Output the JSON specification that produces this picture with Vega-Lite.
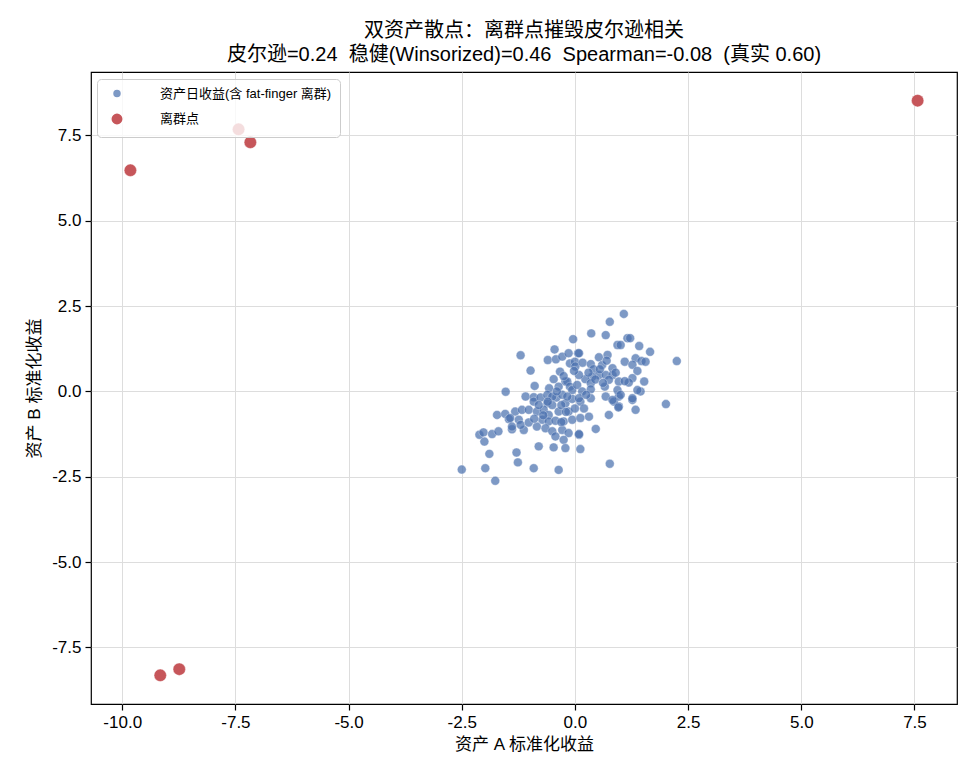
{
  "$schema": "https://vega.github.io/schema/vega-lite/v6.json",
  "autosize": {"type": "none"},
  "padding": {"left": 91, "top": 72, "right": 18, "bottom": 76},
  "width": 866,
  "height": 632,
  "background": "white",
  "title": {
    "text": ["双资产散点：离群点摧毁皮尔逊相关", "皮尔逊=0.24 \u00a0稳健(Winsorized)=0.46 \u00a0Spearman=-0.08 \u00a0(真实 0.60)"],
    "fontSize": 20,
    "fontWeight": "normal",
    "anchor": "middle",
    "offset": 7,
    "lineHeight": 24,
    "color": "black"
  },
  "data": {
    "values": [
      {"a": -2.50, "b": -2.29, "s": "资产日收益(含 fat-finger 离群)"},
      {"a": -1.76, "b": -2.62, "s": "资产日收益(含 fat-finger 离群)"},
      {"a": -1.98, "b": -2.25, "s": "资产日收益(含 fat-finger 离群)"},
      {"a": -1.89, "b": -1.83, "s": "资产日收益(含 fat-finger 离群)"},
      {"a": -2.00, "b": -1.47, "s": "资产日收益(含 fat-finger 离群)"},
      {"a": -2.11, "b": -1.27, "s": "资产日收益(含 fat-finger 离群)"},
      {"a": -2.02, "b": -1.20, "s": "资产日收益(含 fat-finger 离群)"},
      {"a": -1.83, "b": -1.25, "s": "资产日收益(含 fat-finger 离群)"},
      {"a": -1.69, "b": -1.17, "s": "资产日收益(含 fat-finger 离群)"},
      {"a": -1.53, "b": -0.01, "s": "资产日收益(含 fat-finger 离群)"},
      {"a": -1.72, "b": -0.69, "s": "资产日收益(含 fat-finger 离群)"},
      {"a": -1.54, "b": -0.66, "s": "资产日收益(含 fat-finger 离群)"},
      {"a": -1.46, "b": -0.81, "s": "资产日收益(含 fat-finger 离群)"},
      {"a": -1.39, "b": -1.11, "s": "资产日收益(含 fat-finger 离群)"},
      {"a": -1.29, "b": -1.79, "s": "资产日收益(含 fat-finger 离群)"},
      {"a": -1.26, "b": -2.08, "s": "资产日收益(含 fat-finger 离群)"},
      {"a": -1.32, "b": -0.59, "s": "资产日收益(含 fat-finger 离群)"},
      {"a": -1.17, "b": -0.54, "s": "资产日收益(含 fat-finger 离群)"},
      {"a": -1.02, "b": -0.54, "s": "资产日收益(含 fat-finger 离群)"},
      {"a": -1.43, "b": -0.78, "s": "资产日收益(含 fat-finger 离群)"},
      {"a": -1.24, "b": -0.83, "s": "资产日收益(含 fat-finger 离群)"},
      {"a": -1.39, "b": -1.03, "s": "资产日收益(含 fat-finger 离群)"},
      {"a": -1.13, "b": -1.13, "s": "资产日收益(含 fat-finger 离群)"},
      {"a": -1.20, "b": -0.98, "s": "资产日收益(含 fat-finger 离群)"},
      {"a": -1.02, "b": -0.91, "s": "资产日收益(含 fat-finger 离群)"},
      {"a": -1.09, "b": -0.15, "s": "资产日收益(含 fat-finger 离群)"},
      {"a": -0.91, "b": -0.17, "s": "资产日收益(含 fat-finger 离群)"},
      {"a": -0.91, "b": -0.30, "s": "资产日收益(含 fat-finger 离群)"},
      {"a": -0.76, "b": -0.18, "s": "资产日收益(含 fat-finger 离群)"},
      {"a": -0.61, "b": -0.35, "s": "资产日收益(含 fat-finger 离群)"},
      {"a": -0.41, "b": -0.18, "s": "资产日收益(含 fat-finger 离群)"},
      {"a": -0.21, "b": -0.35, "s": "资产日收益(含 fat-finger 离群)"},
      {"a": -0.06, "b": -0.22, "s": "资产日收益(含 fat-finger 离群)"},
      {"a": -0.84, "b": -0.59, "s": "资产日收益(含 fat-finger 离群)"},
      {"a": -0.69, "b": -0.54, "s": "资产日收益(含 fat-finger 离群)"},
      {"a": -0.58, "b": -0.69, "s": "资产日收益(含 fat-finger 离群)"},
      {"a": -0.36, "b": -0.59, "s": "资产日收益(含 fat-finger 离群)"},
      {"a": -0.14, "b": -0.59, "s": "资产日收益(含 fat-finger 离群)"},
      {"a": -0.72, "b": -0.83, "s": "资产日收益(含 fat-finger 离群)"},
      {"a": -0.58, "b": -0.88, "s": "资产日收益(含 fat-finger 离群)"},
      {"a": -0.43, "b": -0.86, "s": "资产日收益(含 fat-finger 离群)"},
      {"a": -0.25, "b": -0.88, "s": "资产日收益(含 fat-finger 离群)"},
      {"a": -0.06, "b": -0.83, "s": "资产日收益(含 fat-finger 离群)"},
      {"a": -0.84, "b": -1.03, "s": "资产日收益(含 fat-finger 离群)"},
      {"a": -0.65, "b": -1.08, "s": "资产日收益(含 fat-finger 离群)"},
      {"a": -0.50, "b": -1.17, "s": "资产日收益(含 fat-finger 离群)"},
      {"a": -0.28, "b": -1.13, "s": "资产日收益(含 fat-finger 离群)"},
      {"a": -0.14, "b": -1.22, "s": "资产日收益(含 fat-finger 离群)"},
      {"a": -0.43, "b": -1.32, "s": "资产日收益(含 fat-finger 离群)"},
      {"a": -0.25, "b": -1.42, "s": "资产日收益(含 fat-finger 离群)"},
      {"a": 0.09, "b": -1.27, "s": "资产日收益(含 fat-finger 离群)"},
      {"a": -0.80, "b": -1.61, "s": "资产日收益(含 fat-finger 离群)"},
      {"a": -0.47, "b": -1.64, "s": "资产日收益(含 fat-finger 离群)"},
      {"a": -0.21, "b": -1.66, "s": "资产日收益(含 fat-finger 离群)"},
      {"a": -0.91, "b": -2.25, "s": "资产日收益(含 fat-finger 离群)"},
      {"a": -0.36, "b": -2.30, "s": "资产日收益(含 fat-finger 离群)"},
      {"a": 0.77, "b": -2.12, "s": "资产日收益(含 fat-finger 离群)"},
      {"a": 0.12, "b": -1.69, "s": "资产日收益(含 fat-finger 离群)"},
      {"a": 0.46, "b": -1.10, "s": "资产日收益(含 fat-finger 离群)"},
      {"a": 0.75, "b": -0.69, "s": "资产日收益(含 fat-finger 离群)"},
      {"a": 1.34, "b": -0.54, "s": "资产日收益(含 fat-finger 离群)"},
      {"a": 0.97, "b": -0.44, "s": "资产日收益(含 fat-finger 离群)"},
      {"a": 1.27, "b": -0.25, "s": "资产日收益(含 fat-finger 离群)"},
      {"a": 0.86, "b": -0.30, "s": "资产日收益(含 fat-finger 离群)"},
      {"a": 1.45, "b": 0.00, "s": "资产日收益(含 fat-finger 离群)"},
      {"a": 0.31, "b": -0.74, "s": "资产日收益(含 fat-finger 离群)"},
      {"a": 2.01, "b": -0.37, "s": "资产日收益(含 fat-finger 离群)"},
      {"a": 0.12, "b": -0.30, "s": "资产日收益(含 fat-finger 离群)"},
      {"a": 0.97, "b": -0.15, "s": "资产日收益(含 fat-finger 离群)"},
      {"a": 0.12, "b": -0.78, "s": "资产日收益(含 fat-finger 离群)"},
      {"a": 0.09, "b": -1.25, "s": "资产日收益(含 fat-finger 离群)"},
      {"a": -1.20, "b": 1.06, "s": "资产日收益(含 fat-finger 离群)"},
      {"a": -0.98, "b": 0.61, "s": "资产日收益(含 fat-finger 离群)"},
      {"a": -0.89, "b": 0.16, "s": "资产日收益(含 fat-finger 离群)"},
      {"a": -0.45, "b": 1.23, "s": "资产日收益(含 fat-finger 离群)"},
      {"a": -0.60, "b": 0.92, "s": "资产日收益(含 fat-finger 离群)"},
      {"a": -0.42, "b": 0.94, "s": "资产日收益(含 fat-finger 离群)"},
      {"a": -0.28, "b": 1.02, "s": "资产日收益(含 fat-finger 离群)"},
      {"a": -0.14, "b": 1.12, "s": "资产日收益(含 fat-finger 离群)"},
      {"a": -0.11, "b": 0.82, "s": "资产日收益(含 fat-finger 离群)"},
      {"a": 0.00, "b": 0.87, "s": "资产日收益(含 fat-finger 离群)"},
      {"a": 0.07, "b": 1.12, "s": "资产日收益(含 fat-finger 离群)"},
      {"a": -0.04, "b": 1.53, "s": "资产日收益(含 fat-finger 离群)"},
      {"a": -0.33, "b": 0.58, "s": "资产日收益(含 fat-finger 离群)"},
      {"a": -0.47, "b": 0.36, "s": "资产日收益(含 fat-finger 离群)"},
      {"a": -0.21, "b": 0.29, "s": "资产日收益(含 fat-finger 离群)"},
      {"a": -0.57, "b": 0.09, "s": "资产日收益(含 fat-finger 离群)"},
      {"a": -0.17, "b": 0.29, "s": "资产日收益(含 fat-finger 离群)"},
      {"a": -0.36, "b": 0.14, "s": "资产日收益(含 fat-finger 离群)"},
      {"a": -0.11, "b": 0.14, "s": "资产日收益(含 fat-finger 离群)"},
      {"a": -0.06, "b": 0.04, "s": "资产日收益(含 fat-finger 离群)"},
      {"a": -0.61, "b": -0.10, "s": "资产日收益(含 fat-finger 离群)"},
      {"a": -0.50, "b": -0.15, "s": "资产日收益(含 fat-finger 离群)"},
      {"a": -0.28, "b": -0.10, "s": "资产日收益(含 fat-finger 离群)"},
      {"a": -0.17, "b": -0.15, "s": "资产日收益(含 fat-finger 离群)"},
      {"a": 0.01, "b": 0.73, "s": "资产日收益(含 fat-finger 离群)"},
      {"a": 1.08, "b": 2.27, "s": "资产日收益(含 fat-finger 离群)"},
      {"a": 0.77, "b": 2.04, "s": "资产日收益(含 fat-finger 离群)"},
      {"a": 0.36, "b": 1.70, "s": "资产日收益(含 fat-finger 离群)"},
      {"a": 0.68, "b": 1.65, "s": "资产日收益(含 fat-finger 离群)"},
      {"a": 0.94, "b": 1.36, "s": "资产日收益(含 fat-finger 离群)"},
      {"a": 1.01, "b": 1.36, "s": "资产日收益(含 fat-finger 离群)"},
      {"a": 1.16, "b": 1.56, "s": "资产日收益(含 fat-finger 离群)"},
      {"a": 1.22, "b": 1.56, "s": "资产日收益(含 fat-finger 离群)"},
      {"a": 1.42, "b": 1.33, "s": "资产日收益(含 fat-finger 离群)"},
      {"a": 1.66, "b": 1.16, "s": "资产日收益(含 fat-finger 离群)"},
      {"a": 2.25, "b": 0.89, "s": "资产日收益(含 fat-finger 离群)"},
      {"a": 1.10, "b": 0.87, "s": "资产日收益(含 fat-finger 离群)"},
      {"a": 1.34, "b": 0.97, "s": "资产日收益(含 fat-finger 离群)"},
      {"a": 1.47, "b": 0.89, "s": "资产日收益(含 fat-finger 离群)"},
      {"a": 1.56, "b": 0.87, "s": "资产日收益(含 fat-finger 离群)"},
      {"a": 1.27, "b": 0.78, "s": "资产日收益(含 fat-finger 离群)"},
      {"a": 1.38, "b": 0.60, "s": "资产日收益(含 fat-finger 离群)"},
      {"a": 1.27, "b": 0.39, "s": "资产日收益(含 fat-finger 离群)"},
      {"a": 1.53, "b": 0.29, "s": "资产日收益(含 fat-finger 离群)"},
      {"a": 0.09, "b": 1.12, "s": "资产日收益(含 fat-finger 离群)"},
      {"a": 0.53, "b": 1.00, "s": "资产日收益(含 fat-finger 离群)"},
      {"a": 0.72, "b": 1.07, "s": "资产日收益(含 fat-finger 离群)"},
      {"a": 0.17, "b": 0.84, "s": "资产日收益(含 fat-finger 离群)"},
      {"a": 0.35, "b": 0.80, "s": "资产日收益(含 fat-finger 离群)"},
      {"a": 0.60, "b": 0.77, "s": "资产日收益(含 fat-finger 离群)"},
      {"a": 0.83, "b": 0.68, "s": "资产日收益(含 fat-finger 离群)"},
      {"a": 0.41, "b": 0.65, "s": "资产日收益(含 fat-finger 离群)"},
      {"a": 0.53, "b": 0.48, "s": "资产日收益(含 fat-finger 离群)"},
      {"a": 0.68, "b": 0.48, "s": "资产日收益(含 fat-finger 离群)"},
      {"a": 0.83, "b": 0.48, "s": "资产日收益(含 fat-finger 离群)"},
      {"a": 0.38, "b": 0.43, "s": "资产日收益(含 fat-finger 离群)"},
      {"a": 0.23, "b": 0.36, "s": "资产日收益(含 fat-finger 离群)"},
      {"a": 0.09, "b": 0.48, "s": "资产日收益(含 fat-finger 离群)"},
      {"a": 0.05, "b": 0.19, "s": "资产日收益(含 fat-finger 离群)"},
      {"a": 0.35, "b": 0.24, "s": "资产日收益(含 fat-finger 离群)"},
      {"a": 0.75, "b": 0.34, "s": "资产日收益(含 fat-finger 离群)"},
      {"a": 0.97, "b": 0.29, "s": "资产日收益(含 fat-finger 离群)"},
      {"a": 0.66, "b": 0.14, "s": "资产日收益(含 fat-finger 离群)"},
      {"a": 0.94, "b": 0.04, "s": "资产日收益(含 fat-finger 离群)"},
      {"a": 1.19, "b": 0.26, "s": "资产日收益(含 fat-finger 离群)"},
      {"a": 1.10, "b": 0.30, "s": "资产日收益(含 fat-finger 离群)"},
      {"a": 1.38, "b": 0.04, "s": "资产日收益(含 fat-finger 离群)"},
      {"a": 0.16, "b": 0.00, "s": "资产日收益(含 fat-finger 离群)"},
      {"a": 0.35, "b": 0.06, "s": "资产日收益(含 fat-finger 离群)"},
      {"a": 0.09, "b": -0.20, "s": "资产日收益(含 fat-finger 离群)"},
      {"a": 0.35, "b": -0.20, "s": "资产日收益(含 fat-finger 离群)"},
      {"a": 0.68, "b": -0.15, "s": "资产日收益(含 fat-finger 离群)"},
      {"a": 1.01, "b": -0.10, "s": "资产日收益(含 fat-finger 离群)"},
      {"a": 1.27, "b": -0.20, "s": "资产日收益(含 fat-finger 离群)"},
      {"a": 0.83, "b": -0.25, "s": "资产日收益(含 fat-finger 离群)"},
      {"a": 0.96, "b": -0.47, "s": "资产日收益(含 fat-finger 离群)"},
      {"a": 0.20, "b": -0.50, "s": "资产日收益(含 fat-finger 离群)"},
      {"a": 0.25, "b": -0.10, "s": "资产日收益(含 fat-finger 离群)"},
      {"a": -0.30, "b": -0.40, "s": "资产日收益(含 fat-finger 离群)"},
      {"a": -0.50, "b": -0.40, "s": "资产日收益(含 fat-finger 离群)"},
      {"a": -0.70, "b": -0.70, "s": "资产日收益(含 fat-finger 离群)"},
      {"a": -0.90, "b": -0.80, "s": "资产日收益(含 fat-finger 离群)"},
      {"a": -0.40, "b": 0.00, "s": "资产日收益(含 fat-finger 离群)"},
      {"a": 0.00, "b": -0.50, "s": "资产日收益(含 fat-finger 离群)"},
      {"a": -0.20, "b": -0.60, "s": "资产日收益(含 fat-finger 离群)"},
      {"a": -0.60, "b": -0.30, "s": "资产日收益(含 fat-finger 离群)"},
      {"a": -0.80, "b": -0.40, "s": "资产日收益(含 fat-finger 离群)"},
      {"a": -0.30, "b": -0.90, "s": "资产日收益(含 fat-finger 离群)"},
      {"a": 0.55, "b": 0.65, "s": "资产日收益(含 fat-finger 离群)"},
      {"a": 0.45, "b": 0.35, "s": "资产日收益(含 fat-finger 离群)"},
      {"a": 0.62, "b": 0.25, "s": "资产日收益(含 fat-finger 离群)"},
      {"a": -0.02, "b": 0.60, "s": "资产日收益(含 fat-finger 离群)"},
      {"a": 0.30, "b": 0.55, "s": "资产日收益(含 fat-finger 离群)"},
      {"a": -0.25, "b": 0.45, "s": "资产日收益(含 fat-finger 离群)"},
      {"a": 0.90, "b": 0.55, "s": "资产日收益(含 fat-finger 离群)"},
      {"a": 0.70, "b": 0.90, "s": "资产日收益(含 fat-finger 离群)"},
      {"a": -9.82, "b": 6.48, "s": "离群点"},
      {"a": -7.43, "b": 7.68, "s": "离群点"},
      {"a": -7.17, "b": 7.30, "s": "离群点"},
      {"a": 7.57, "b": 8.52, "s": "离群点"},
      {"a": -9.16, "b": -8.32, "s": "离群点"},
      {"a": -8.74, "b": -8.14, "s": "离群点"}
    ]
  },
  "mark": {"type": "circle", "stroke": "white", "strokeWidth": 0.4},
  "encoding": {
    "x": {
      "field": "a",
      "type": "quantitative",
      "scale": {"domain": [-10.69, 8.44], "nice": false, "zero": false},
      "axis": {"values": [-10, -7.5, -5, -2.5, 0, 2.5, 5, 7.5], "labelExpr": "replace(format(datum.value, '.1f'), '\u2212', '-')", "title": "资产 A 标准化收益"}
    },
    "y": {
      "field": "b",
      "type": "quantitative",
      "scale": {"domain": [-9.16, 9.36], "nice": false, "zero": false},
      "axis": {"values": [-7.5, -5, -2.5, 0, 2.5, 5, 7.5], "labelExpr": "replace(format(datum.value, '.1f'), '\u2212', '-')", "title": "资产 B 标准化收益"}
    },
    "color": {
      "field": "s",
      "type": "nominal",
      "scale": {"domain": ["资产日收益(含 fat-finger 离群)", "离群点"], "range": ["#4C72B0", "#C44E52"]},
      "legend": {
        "title": null,
        "orient": "none",
        "legendX": 6,
        "legendY": 7,
        "padding": 8,
        "symbolOffset": 5,
        "labelOffset": 36,
        "rowPadding": 8,
        "labelFontSize": 13,
        "labelLimit": 0,
        "labelColor": "black",
        "strokeColor": "#cccccc",
        "fillColor": "rgba(255,255,255,0.8)",
        "cornerRadius": 4
      }
    },
    "size": {
      "field": "s",
      "type": "nominal",
      "scale": {"domain": ["资产日收益(含 fat-finger 离群)", "离群点"], "range": [80, 155]}
    },
    "opacity": {
      "field": "s",
      "type": "nominal",
      "scale": {"domain": ["资产日收益(含 fat-finger 离群)", "离群点"], "range": [0.72, 0.95]}
    }
  },
  "config": {
    "font": "Liberation Sans, Noto Sans CJK SC, sans-serif",
    "view": {"stroke": "black", "strokeWidth": 1.2},
    "axis": {
      "domain": false,
      "labelFontSize": 17,
      "titleFontSize": 17,
      "labelColor": "black",
      "titleColor": "black",
      "titleFontWeight": "normal",
      "tickColor": "black",
      "tickSize": 6,
      "tickWidth": 1.2,
      "labelPadding": 4,
      "gridColor": "#dddddd",
      "gridWidth": 1
    },
    "axisX": {"titlePadding": 6},
    "axisY": {"titlePadding": 8}
  }
}
